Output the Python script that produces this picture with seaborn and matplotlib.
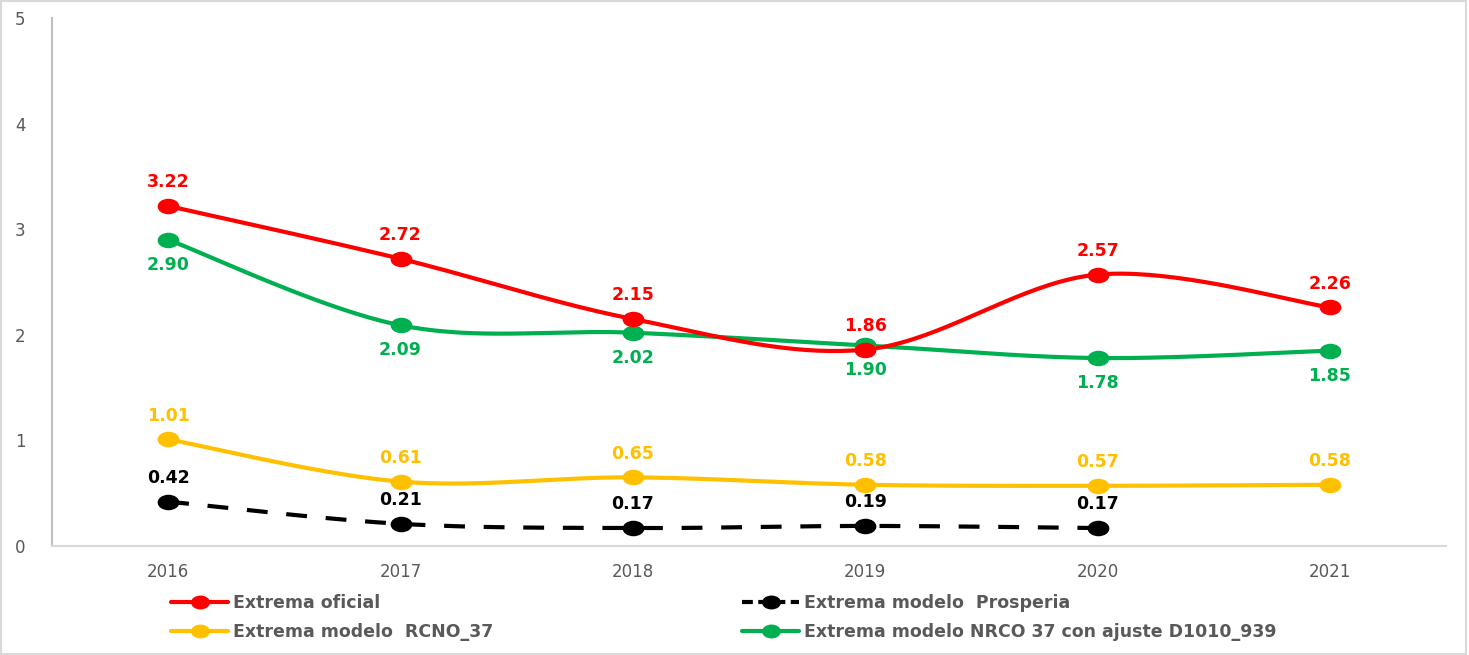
import numpy as np
import pandas as pd
import matplotlib
matplotlib.use("Agg")
import matplotlib.pyplot as plt
import seaborn as sns
from matplotlib.lines import Line2D
from matplotlib.patches import Rectangle
from matplotlib.markers import MarkerStyle
from matplotlib.transforms import Affine2D

years = ["2016", "2017", "2018", "2019", "2020", "2021"]
oficial = [3.22, 2.72, 2.15, 1.86, 2.57, 2.26]
prosperia = [0.42, 0.21, 0.17, 0.19, 0.17, np.nan]
rcno = [1.01, 0.61, 0.65, 0.58, 0.57, 0.58]
nrco = [2.90, 2.09, 2.02, 1.90, 1.78, 1.85]

names = ["Extrema oficial", "Extrema modelo  Prosperia",
         "Extrema modelo  RCNO_37", "Extrema modelo NRCO 37 con ajuste D1010_939"]
colors = {"Extrema oficial": "#FF0000", "Extrema modelo  Prosperia": "#000000",
          "Extrema modelo  RCNO_37": "#FFC000",
          "Extrema modelo NRCO 37 con ajuste D1010_939": "#00B050"}
label_pos = {"Extrema oficial": "above", "Extrema modelo  Prosperia": "above",
             "Extrema modelo  RCNO_37": "above",
             "Extrema modelo NRCO 37 con ajuste D1010_939": "below"}
series = dict(zip(names, [oficial, prosperia, rcno, nrco]))

sns.set_theme(style="white")
plt.rcParams["font.family"] = ["DejaVu Sans"]

fig = plt.figure(figsize=(14.69, 6.55), dpi=100)
ax = fig.add_axes([52 / 1469, 109 / 655, 1394 / 1469, 528 / 655])


def smooth(xs, ys, n=40):
    xs = np.asarray(xs, float)
    ys = np.asarray(ys, float)
    P = np.column_stack([xs, ys])
    out = []
    for i in range(len(P) - 1):
        p0 = P[i - 1] if i > 0 else P[i]
        p1 = P[i]
        p2 = P[i + 1]
        p3 = P[i + 2] if i + 2 < len(P) else P[i + 1]
        c1 = p1 + (p2 - p0) / 6.0
        c2 = p2 - (p3 - p1) / 6.0
        t = np.linspace(0, 1, n)[:, None]
        seg = ((1 - t) ** 3) * p1 + 3 * ((1 - t) ** 2) * t * c1 + 3 * (1 - t) * t ** 2 * c2 + t ** 3 * p2
        out.append(seg if i == 0 else seg[1:])
    s = np.vstack(out)
    return s[:, 0], s[:, 1]


def oval():
    return MarkerStyle("o", transform=Affine2D().scale(1.4, 1.0))


rows = []
for name, vals in series.items():
    for i, v in enumerate(vals):
        rows.append({"x": i, "y": v, "serie": name})
df = pd.DataFrame(rows).dropna()

draw_order = ["Extrema modelo  RCNO_37", "Extrema modelo  Prosperia",
              "Extrema modelo NRCO 37 con ajuste D1010_939", "Extrema oficial"]
for name in draw_order:
    d = df[df.serie == name]
    sx, sy = smooth(d.x.values, d.y.values)
    ls = (0, (5, 4.5)) if name == "Extrema modelo  Prosperia" else "-"
    ax.plot(sx, sy, color=colors[name], lw=3, linestyle=ls, solid_capstyle="round", zorder=2)
    sns.scatterplot(data=d, x="x", y="y", color=colors[name], s=125, marker=oval(),
                    edgecolor=colors[name], linewidth=0, ax=ax, zorder=3, legend=False)
    for xi, yi in zip(d.x.values, d.y.values):
        off = 17 if label_pos[name] == "above" else -18
        ax.annotate(f"{yi:.2f}", (xi, yi), xytext=(0, off), textcoords="offset points",
                    ha="center", va="center", fontsize=12.5, fontweight="bold",
                    color=colors[name], zorder=4)

ax.set_xlim(-0.5, 5.5)
ax.set_ylim(0, 5)
ax.set_xticks(range(len(years)))
ax.set_xticklabels(years)
ax.set_yticks(range(0, 6))
ax.set_xlabel("")
ax.set_ylabel("")
ax.tick_params(axis="both", length=0, labelsize=12, labelcolor="#595959")
ax.tick_params(axis="y", pad=19)
ax.tick_params(axis="x", pad=12)
for sp in ["top", "right"]:
    ax.spines[sp].set_visible(False)
ax.spines["left"].set_color("#BFBFBF")
ax.spines["left"].set_linewidth(1.5)
ax.spines["bottom"].set_color("#D9D9D9")
ax.spines["bottom"].set_linewidth(1.5)
ax.grid(False)


def handle(name):
    ls = (0, (2.6, 1.3)) if name == "Extrema modelo  Prosperia" else "-"
    return Line2D([0], [0], color=colors[name], lw=3, linestyle=ls, marker=oval(),
                  markersize=9, markerfacecolor=colors[name], markeredgecolor=colors[name])


leg_font = {"family": "DejaVu Sans", "weight": "bold", "size": 12.5}
common = dict(loc="upper left", frameon=False, prop=leg_font, handlelength=3.3,
              handletextpad=0.25, labelspacing=0.62, borderpad=0, borderaxespad=0)
leg1 = fig.legend([handle(names[0]), handle(names[2])], [names[0], names[2]],
                  bbox_to_anchor=(171 / 1469, 1 - 594 / 655), **common)
leg2 = fig.legend([handle(names[1]), handle(names[3])], [names[1], names[3]],
                  bbox_to_anchor=(742 / 1469, 1 - 594 / 655), **common)
for lg in (leg1, leg2):
    for t in lg.get_texts():
        t.set_color("#595959")

fig.patches.append(Rectangle((0.001, 0.002), 0.997, 0.996, transform=fig.transFigure,
                             fill=False, ec="#D9D9D9", lw=1.5))

fig.savefig("out.png", dpi=100)
